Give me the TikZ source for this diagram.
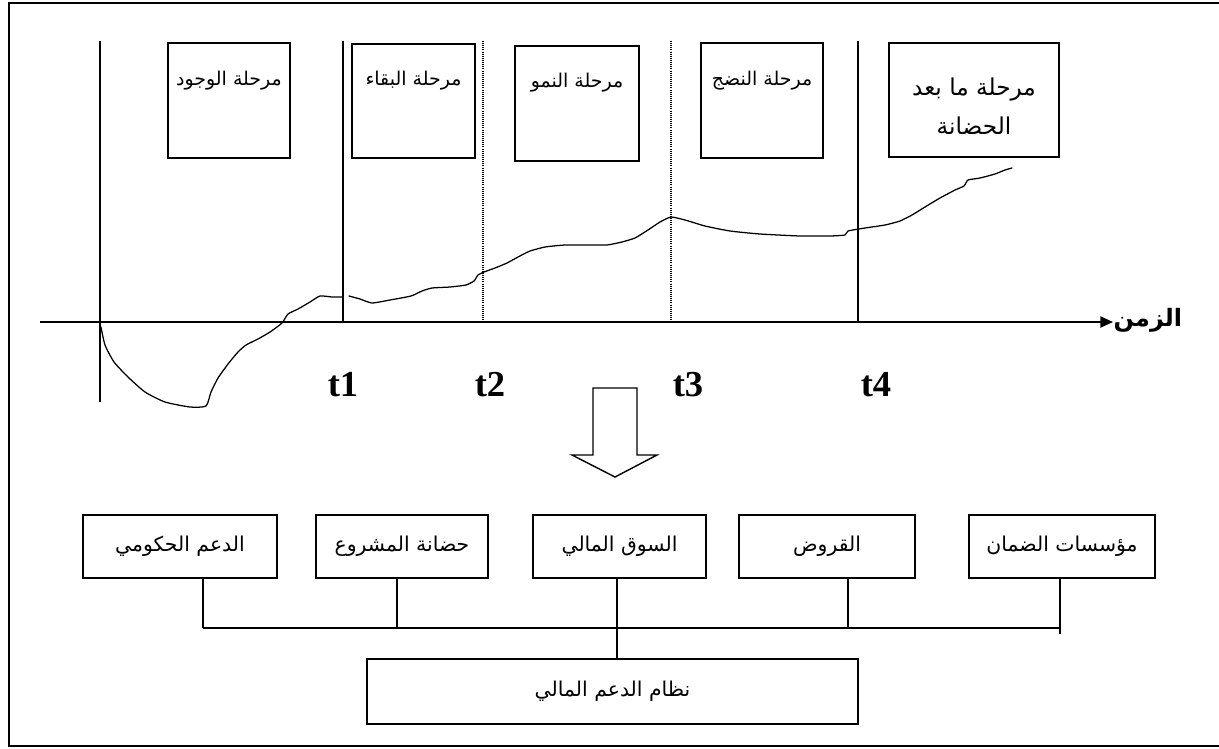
\documentclass[tikz,border=0pt]{standalone}
\usepackage{fontspec}
\setmainfont{Liberation Serif}
\newfontfamily\arabicfont[Script=Arabic]{DejaVu Sans}
\TeXXeTstate=1
\usetikzlibrary{arrows.meta,positioning}
\newcommand{\rl}[1]{\beginR #1\endR}
\tikzset{
  artext/.style={font=\arabicfont\fontsize{13.5}{16}\selectfont, inner sep=1pt},
  fundtext/.style={font=\arabicfont\fontsize{14.5}{17}\selectfont, inner sep=1pt},
  tlabel/.style={font=\fontsize{26}{28}\selectfont\bfseries, inner sep=0pt},
}

\begin{document}
\begin{tikzpicture}[
  x=0.25mm, y=-0.25mm,
  stagebox/.style={rectangle, draw, line width=1.2pt, minimum width=30.5mm,
    minimum height=28.75mm, inner sep=0pt},
  fundbox/.style={rectangle, draw, line width=1.2pt, minimum height=15.75mm,
    inner sep=0pt},
  phase/.style={line width=1pt},
  phasedot/.style={line width=0.8pt, dash pattern=on 0.6pt off 0.9pt},
  growth/.style={line width=0.9pt, line join=round, line cap=round},
  link/.style={line width=1pt},
]
\useasboundingbox (0,0) rectangle (1219,748);
% frame
\draw[line width=1.6pt] (1220,3) -- (9,3) -- (9,746) -- (1220,746);
% time axis
\coordinate (origin) at (40,322);
\coordinate (tend) at (1113,322);
\draw[line width=1pt, -{Triangle[length=9pt,width=8pt]}] (origin) -- (tend);
\node[artext, font=\arabicfont\bfseries\fontsize{17}{19}\selectfont, anchor=west]
  (time) at (1112,320) {\rl{الزمن}};
% phase limits
\draw[phase] (100,41) -- (100,402);
\draw[phase] (343,41) -- (343,322);
\draw[phasedot] (483,41) -- (483,320);
\draw[phasedot] (671,41) -- (671,322);
\draw[phase] (858,41) -- (858,322);
% stage boxes
\node[stagebox] (exist) at (229,100.5) {};
\node[stagebox, minimum width=30.75mm, minimum height=28.5mm] (survive) at (413.5,101) {};
\node[stagebox, minimum width=31mm] (grow) at (577,103.5) {};
\node[stagebox] (mature) at (762,100.5) {};
\node[stagebox, minimum width=42.5mm, minimum height=28.5mm] (post) at (974,100) {};
\node[artext] (existlbl) at (229,81) {\rl{مرحلة الوجود}};
\node[artext] (survivelbl) at (413.5,81) {\rl{مرحلة البقاء}};
\node[artext] (growlbl) at (577,83) {\rl{مرحلة النمو}};
\node[artext] (maturelbl) at (762,81) {\rl{مرحلة النضج}};
\node[artext, font=\arabicfont\fontsize{16.5}{19}\selectfont, align=center]
  (postlbl) at (974,106) {\rl{مرحلة ما بعد}\\[9pt]\rl{الحضانة}};
% growth path
\draw[growth] plot[smooth, tension=0.35] coordinates {
  (101,327) (105,345) (114,362) (128,377) (145,392) (165,402) (190,407)
  (206,406) (211,392) (218,378) (228,364) (238,352) (246,345) (258,339)
  (270,332) (282,323) (288,314) (298,309) (310,302) (320,296) (332,297)
  (342,297)};
\draw[growth] plot[smooth, tension=0.3] coordinates {
  (349,296) (360,299) (372,303) (390,300) (411,296) (422,291) (432,288)
  (450,287) (466,285) (474,281) (478,275) (484,272) (495,268) (507,263)
  (518,257) (530,251) (545,247) (565,245) (590,245) (607,245) (622,242)
  (635,238) (648,230) (660,222) (671,217) (685,220) (705,226) (730,231)
  (760,234) (800,236) (830,236) (845,235) (848,231) (865,228) (885,225)
  (900,221) (912,215) (925,207) (940,198) (955,190) (964,186) (968,180)
  (980,178) (995,174) (1005,170) (1012,168)};
% time marks
\node[tlabel] (t1) at (343,385) {t1};
\node[tlabel] (t2) at (490,385) {t2};
\node[tlabel] (t3) at (688,385) {t3};
\node[tlabel] (t4) at (876,385) {t4};
% hollow arrow
\draw[line width=1pt, line join=miter, fill=white] (593,388) -- (637,388) -- (637,455)
  -- (657,455) -- (615,477) -- (572,455) -- (593,455) -- cycle;
% funding sources
\node[fundbox, minimum width=48.5mm] (gov) at (180,546.5) {};
\node[fundbox, minimum width=43mm] (incub) at (402,546.5) {};
\node[fundbox, minimum width=43.25mm] (market) at (619.5,546.5) {};
\node[fundbox, minimum width=44mm] (loans) at (827,546.5) {};
\node[fundbox, minimum width=46.5mm] (guar) at (1062,546.5) {};
\node[fundtext] (govlbl) at (gov) {\rl{الدعم الحكومي}};
\node[fundtext] (incublbl) at (incub) {\rl{حضانة المشروع}};
\node[fundtext] (marketlbl) at (market) {\rl{السوق المالي}};
\node[fundtext] (loanslbl) at (loans) {\rl{القروض}};
\node[fundtext] (guarlbl) at (guar) {\rl{مؤسسات الضمان}};
\node[fundbox, minimum width=122.75mm, minimum height=16.25mm] (system) at (612.5,691.5) {};
\node[fundtext] (systemlbl) at (system) {\rl{نظام الدعم المالي}};
% links
\coordinate (busL) at (203,628);
\coordinate (busR) at (1060,628);
\draw[link] (busL) -- (busR);
\draw[link] (gov.south -| busL) -- (busL);
\draw[link] (incub.south -| 397,0) -- (397,628);
\draw[link] (market.south -| 617,0) -- (system.north -| 617,0);
\draw[link] (loans.south -| 848,0) -- (848,628);
\draw[link] (guar.south -| busR) -- (1060,634);
\end{tikzpicture}
\end{document}
